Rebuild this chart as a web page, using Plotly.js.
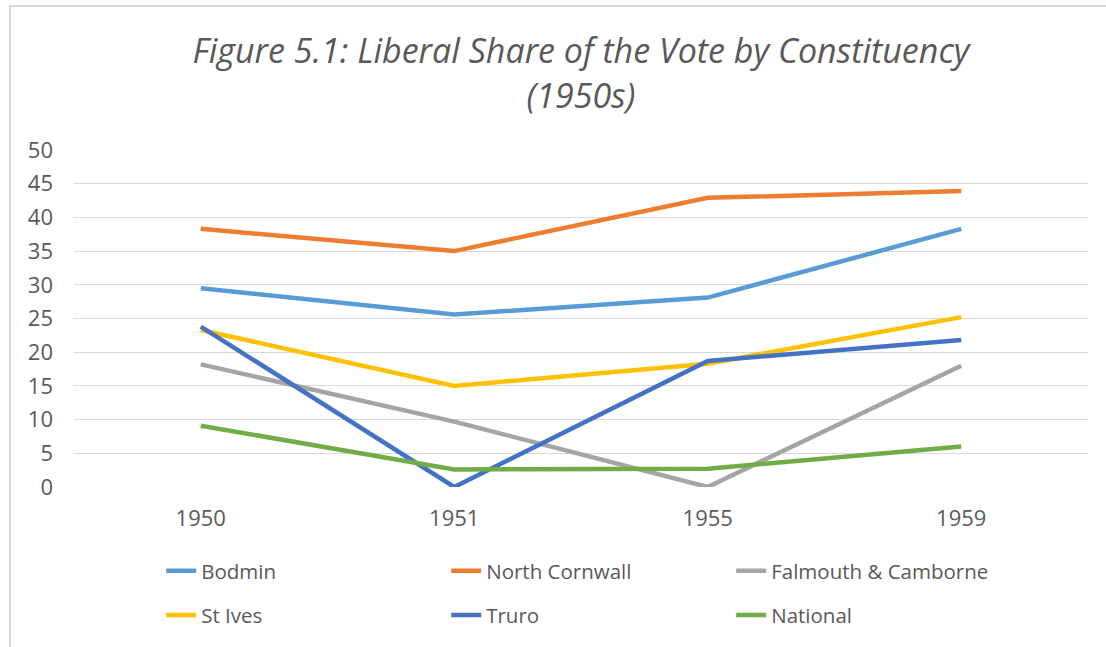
<!DOCTYPE html>
<html>
<head>
<meta charset="utf-8">
<script src="https://cdn.plot.ly/plotly-3.0.1.min.js"></script>
<style>
  html, body { margin: 0; padding: 0; background: #fff; }
  #wrap { position: relative; width: 1106px; height: 647px; overflow: hidden; }
  #chart { position: absolute; left: 0; top: 0; width: 1106px; height: 647px; }
  #frame { position: absolute; left: 9px; top: 5px; width: 1200px; height: 700px;
           border-left: 2px solid #d9d9d9; border-top: 2px solid #d9d9d9; pointer-events: none; }
</style>
</head>
<body>
<div id="wrap">
  <div id="chart"></div>
  <div id="frame"></div>
</div>
<script>
const years = ['1950', '1951', '1955', '1959'];
const bodmin = [29.5, 25.6, 28.1, 38.3];
const northCornwall = [38.3, 35.0, 42.9, 43.9];
const falmouth = [18.2, 9.7, 0, 18.0];
const stIves = [23.3, 15.0, 18.3, 25.2];
const truro = [23.8, 0, 18.7, 21.8];
const national = [9.1, 2.6, 2.7, 6.0];

const seriesNames = ['Bodmin', 'North Cornwall', 'Falmouth & Camborne', 'St Ives', 'Truro', 'National'];
const seriesValues = [bodmin, northCornwall, falmouth, stIves, truro, national];
const seriesColors = ['#5B9BD5', '#ED7D31', '#A5A5A5', '#FFC000', '#4472C4', '#70AD47'];

const traces = seriesNames.map((name, i) => ({
  type: 'scatter',
  mode: 'lines',
  name: name,
  x: years,
  y: seriesValues[i],
  line: { color: seriesColors[i], width: 4.5 },
  legend: i < 3 ? 'legend' : 'legend2',
  hoverinfo: 'x+y+name'
}));

const font = { family: 'Open Sans, sans-serif', color: '#595959' };
const legendCommon = {
  orientation: 'h',
  xref: 'paper', yref: 'paper',
  x: 0.086, xanchor: 'left',
  yanchor: 'middle',
  entrywidth: 240, entrywidthmode: 'pixels',
  itemwidth: 30,
  bgcolor: 'rgba(0,0,0,0)',
  font: { family: 'Open Sans, sans-serif', size: 20.5, color: '#595959' }
};

const layout = {
  width: 1106, height: 647,
  paper_bgcolor: '#ffffff', plot_bgcolor: '#ffffff',
  margin: { l: 74, r: 18, t: 150, b: 156 },
  font: font,
  title: {
    text: '<i>Figure 5.1: Liberal Share of the Vote by Constituency<br>(1950s)</i>',
    font: { family: 'Open Sans, sans-serif', size: 34, color: '#595959' },
    x: 0.5, xanchor: 'center', xref: 'paper',
    y: 0.902, yanchor: 'top', yref: 'container'
  },
  xaxis: {
    type: 'category',
    range: [-0.5, 3.5],
    showgrid: false, zeroline: false, showline: false,
    ticks: '',
    tickfont: { family: 'Open Sans, sans-serif', size: 22, color: '#595959' },
    ticklabelstandoff: 16,
    fixedrange: true
  },
  yaxis: {
    range: [0, 50],
    dtick: 5, tick0: 0,
    showgrid: true, gridcolor: '#d9d9d9', gridwidth: 1.3,
    zeroline: false, showline: false,
    ticks: '',
    tickfont: { family: 'Open Sans, sans-serif', size: 22, color: '#595959' },
    ticklabelstandoff: 20,
    fixedrange: true
  },
  legend: Object.assign({}, legendCommon, { y: -0.249 }),
  legend2: Object.assign({}, legendCommon, { y: -0.380 }),
  showlegend: true
};

Plotly.newPlot('chart', traces, layout, { displayModeBar: false, staticPlot: false });
</script>
</body>
</html>
